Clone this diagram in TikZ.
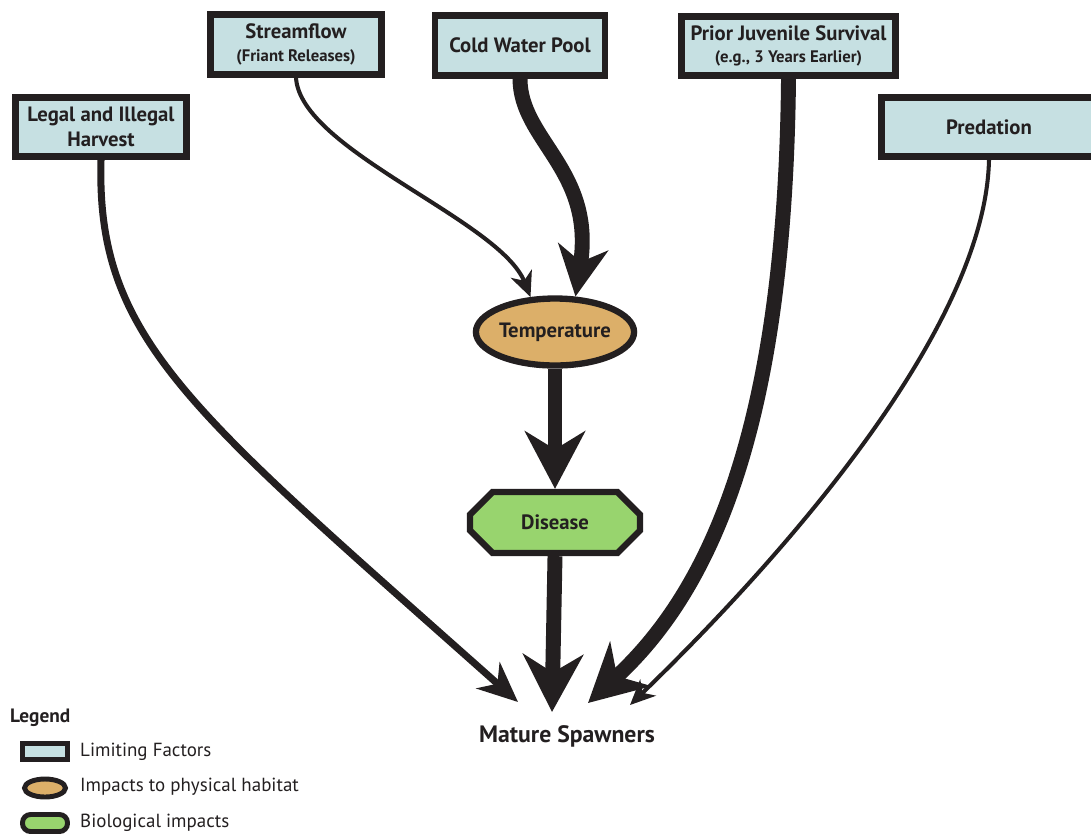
\documentclass[tikz,border=0pt]{standalone}
\usepackage{fontspec}
\setmainfont{PT Sans}
\usetikzlibrary{arrows.meta,shapes.geometric,shapes.misc}
\definecolor{ink}{HTML}{231F20}
\definecolor{factorblue}{HTML}{C6E0E2}
\definecolor{habitatorange}{HTML}{DCAF69}
\definecolor{biogreen}{HTML}{98D46E}
\newcommand{\subline}[1]{{\fontsize{9.5}{11}\selectfont\bfseries #1}}

\begin{document}
\begin{tikzpicture}[x=0.02cm,y=-0.02cm,
  factor/.style={draw=ink,line width=3.8pt,fill=factorblue,text=ink,align=center,inner sep=0pt,
    minimum width=3.42cm,minimum height=1.19cm,font=\fontsize{11.8}{14.5}\selectfont\bfseries},
  habitat/.style={ellipse,draw=ink,line width=3.6pt,fill=habitatorange,text=ink,inner sep=0pt,
    minimum width=2.88cm,minimum height=1.34cm,font=\fontsize{11.8}{14}\selectfont\bfseries},
  bio/.style={chamfered rectangle,chamfered rectangle xsep=0.3cm,chamfered rectangle ysep=0.3cm,
    draw=ink,line width=3.6pt,fill=biogreen,text=ink,inner sep=0pt,
    minimum width=3.4cm,minimum height=1.22cm,font=\fontsize{11.8}{14}\selectfont\bfseries},
  weaklink/.style={draw=ink,line width=2.3pt,-{Stealth[length=0.5cm,width=0.45cm,inset=0.15cm]}},
  midlink/.style={draw=ink,line width=4pt,-{Stealth[length=0.8cm,width=0.7cm,inset=0.25cm]}},
  stronglink/.style={draw=ink,line width=8.5pt,-{Stealth[length=1.15cm,width=1.2cm,inset=0.36cm]}},
  keytext/.style={anchor=west,text=ink,font=\fontsize{10.8}{13}\selectfont}]
  \useasboundingbox (0,0) rectangle (1091,836);

  \node[factor] (harvest) at (101,127) {Legal and Illegal\\Harvest};
  \node[factor,font=\fontsize{11.8}{13}\selectfont\bfseries] (stream) at (296,44.5) {Streamflow\\\subline{(Friant Releases)}};
  \node[factor,minimum width=3.4cm] (cold) at (520,45.5) {Cold Water Pool};
  \node[factor,minimum width=4.28cm,font=\fontsize{11.8}{13}\selectfont\bfseries] (prior) at (788.5,46) {Prior Juvenile Survival\\\subline{(e.g., 3 Years Earlier)}};
  \node[factor,minimum width=4.3cm] (predation) at (989,127) {Predation};
  \node[habitat] (temp) at (555,332) {Temperature};
  \node[bio] (disease) at (555,522.5) {Disease};
  \node[text=ink,font=\fontsize{13.5}{16}\selectfont\bfseries] (spawners) at (567,736) {Mature Spawners};

  \coordinate (tipharvest) at (518,702);
  \coordinate (tipdisease) at (552,712);
  \coordinate (tipprior) at (588,703);
  \coordinate (tippredation) at (630,705);

  \draw[midlink] (harvest.south) .. controls (96,340) and (190,410) .. (tipharvest);
  \draw[weaklink] (stream.south) .. controls (300,150) and (500,220) .. (temp.125);
  \draw[stronglink,-{Stealth[length=1cm,width=1cm,inset=0.3cm]}] (cold.south) .. controls (520,140) and (595,170) .. (temp.60);
  \draw[stronglink] (prior.south) .. controls (785,450) and (700,600) .. (tipprior);
  \draw[weaklink] (predation.south) .. controls (985,330) and (780,560) .. (tippredation);
  \draw[stronglink] (temp.south) -- (disease.north);
  \draw[stronglink] (disease.south) -- (tipdisease);

  \node[anchor=west,text=ink,font=\fontsize{11}{13}\selectfont\bfseries] (legend) at (4,718) {Legend};
  \node[draw=ink,line width=2.8pt,fill=factorblue,minimum width=0.9cm,minimum height=0.32cm,inner sep=0pt] (keyfactor) at (45,751.5) {};
  \node[ellipse,draw=ink,line width=2.8pt,fill=habitatorange,minimum width=0.82cm,minimum height=0.36cm,inner sep=0pt] (keyhabitat) at (45,788) {};
  \node[draw=ink,line width=2.8pt,fill=biogreen,rounded corners=0.16cm,minimum width=0.9cm,minimum height=0.34cm,inner sep=0pt] (keybio) at (45,823) {};
  \node[keytext] (txtfactor) at (74,752) {Limiting Factors};
  \node[keytext] (txthabitat) at (74,787) {Impacts to physical habitat};
  \node[keytext] (txtbio) at (74,823) {Biological impacts};
\end{tikzpicture}
\end{document}
